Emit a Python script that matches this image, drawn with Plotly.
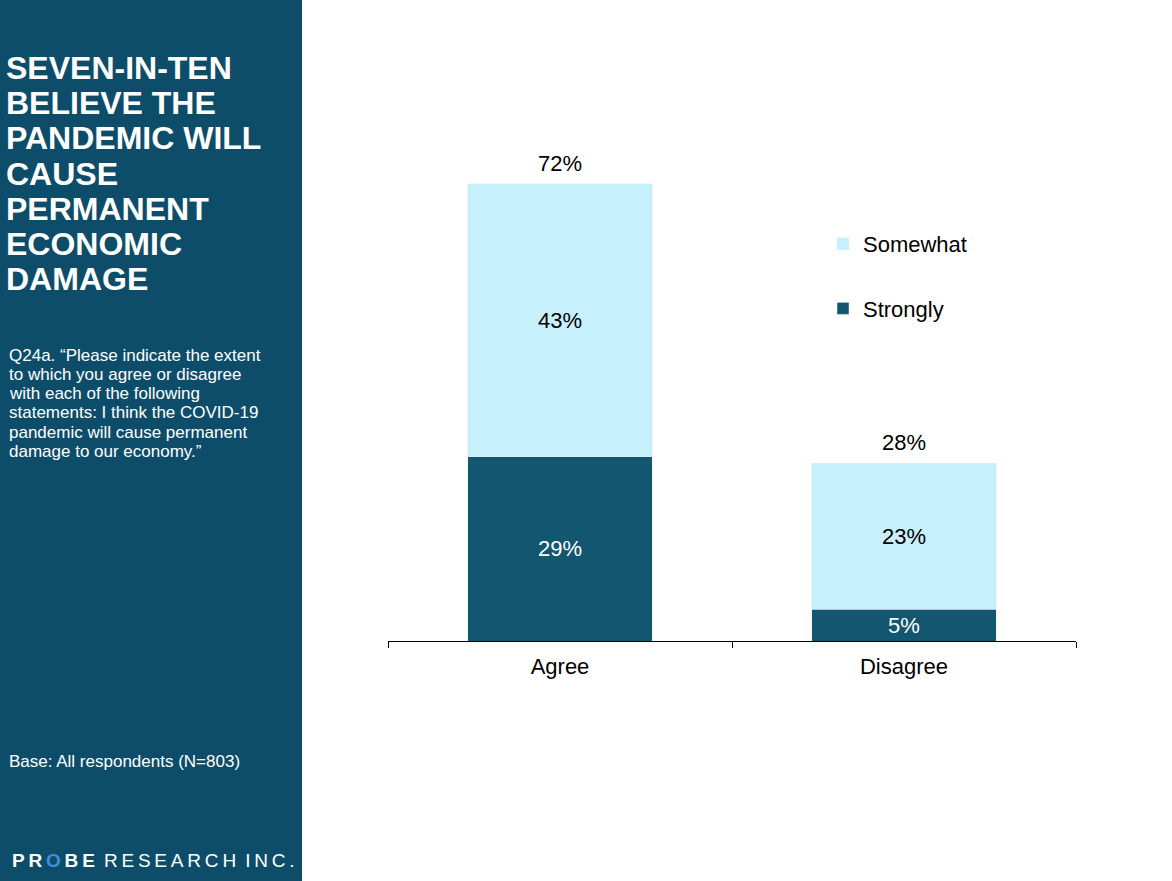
import plotly.graph_objects as go

categories = ["Agree", "Disagree"]
strongly = [29, 5]
somewhat = [43, 23]
totals = [a + b for a, b in zip(strongly, somewhat)]

title_lines = ["SEVEN-IN-TEN", "BELIEVE THE", "PANDEMIC WILL", "CAUSE",
               "PERMANENT", "ECONOMIC", "DAMAGE"]
question_lines = ["Q24a. \u201cPlease indicate the extent",
                  "to which you agree or disagree",
                  "with each of the following",
                  "statements: I think the COVID-19",
                  "pandemic will cause permanent",
                  "damage to our economy.\u201d"]
base_text = "Base: All respondents (N=803)"

DARK = "#135670"
LIGHT = "#C6F0FC"
PANEL = "#0E4D69"
FONT = "Liberation Sans, Arial, sans-serif"

W, H = 1172, 881
L, R, T, B = 388, 96, 133, 240
PW, PH = W - L - R, H - T - B


def px(x):
    return (x - L) / PW


def py(y):
    return (H - B - y) / PH


fig = go.Figure()
fig.add_bar(x=categories, y=strongly, name="Strongly", marker_color=DARK,
            width=0.535, text=[f"{v}%" for v in strongly], textposition="inside",
            insidetextanchor="middle", textangle=0, constraintext="none",
            textfont=dict(color="white", size=22, family=FONT),
            legendgroup="a", legendrank=2, hoverinfo="skip")
fig.add_bar(x=categories, y=somewhat, name="Somewhat", marker_color=LIGHT,
            width=0.535, text=[f"{v}%" for v in somewhat], textposition="inside",
            insidetextanchor="middle", textangle=0, constraintext="none",
            textfont=dict(color="black", size=22, family=FONT),
            legendgroup="b", legendrank=1, hoverinfo="skip")

shapes = [dict(type="rect", xref="paper", yref="paper", x0=px(0), x1=px(302),
               y0=py(H), y1=py(0), fillcolor=PANEL, line_width=0, layer="below")]

annotations = []
for c, t in zip(categories, totals):
    annotations.append(dict(x=c, y=t, xref="x", yref="y", yanchor="bottom",
                            yshift=6, showarrow=False, text=f"{t}%",
                            font=dict(color="black", size=22, family=FONT)))
for i, line in enumerate(title_lines):
    annotations.append(dict(xref="paper", yref="paper", x=px(4), y=py(68 + 35.2 * i),
                            xanchor="left", yanchor="middle", showarrow=False,
                            text=f"<b>{line}</b>",
                            font=dict(color="white", size=32, family=FONT)))
for i, line in enumerate(question_lines):
    annotations.append(dict(xref="paper", yref="paper", x=px(7), y=py(355 + 19.3 * i),
                            xanchor="left", yanchor="middle", showarrow=False,
                            text=line, font=dict(color="white", size=17, family=FONT)))
annotations.append(dict(xref="paper", yref="paper", x=px(7), y=py(761),
                        xanchor="left", yanchor="middle", showarrow=False,
                        text=base_text, font=dict(color="white", size=17, family=FONT)))
sp = "\u2009"
logo = ("<b>P" + sp + "R" + sp + "<span style='color:#3d8fd8'>O</span>" + sp + "B" + sp + "E</b>"
        + sp + " " + sp.join("RESEARCH") + sp + " " + sp.join("INC."))
annotations.append(dict(xref="paper", yref="paper", x=px(10), y=py(860),
                        xanchor="left", yanchor="middle", showarrow=False,
                        text=logo, font=dict(color="white", size=19, family=FONT)))

fig.update_layout(
    width=W, height=H, barmode="stack",
    margin=dict(l=L, r=R, t=T, b=B, pad=0),
    paper_bgcolor="white", plot_bgcolor="white",
    font=dict(family=FONT, size=22, color="black"),
    bargap=0.465,
    xaxis=dict(range=[-0.5, 1.5], showline=True, linecolor="black", linewidth=1,
               ticks="outside", tickson="boundaries", ticklen=6, tickcolor="black",
               showgrid=False, zeroline=False, ticklabelstandoff=6,
               tickfont=dict(size=22, family=FONT, color="black")),
    yaxis=dict(range=[0, 80], visible=False, showgrid=False, zeroline=False),
    legend=dict(x=px(823), y=py(223), xanchor="left", yanchor="top",
                traceorder="grouped", tracegroupgap=33,
                font=dict(size=22, family=FONT, color="black"),
                bgcolor="rgba(0,0,0,0)"),
    shapes=shapes, annotations=annotations, showlegend=True,
)

fig.write_html("out.html", config={"displayModeBar": False},
               post_script="document.body.style.margin='0';")
